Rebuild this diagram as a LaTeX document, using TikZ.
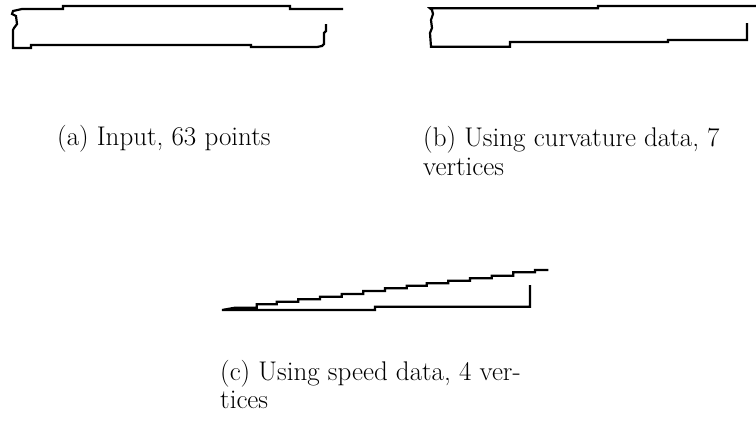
\documentclass[tikz,border=0pt]{standalone}
\begin{document}
\begin{tikzpicture}[x=1pt,y=-1pt,
  outline/.style={line width=2.2pt,line join=miter,line cap=butt},
  captext/.style={anchor=base west,inner sep=0pt,font=\fontsize{27}{28.5}\selectfont}]
\useasboundingbox (0,0) rectangle (756,442);
% (a) input
\draw[outline] (343,9) -- (290,9) -- (290,6) -- (63,6) -- (63,9) -- (22,9)
  -- (13,11) -- (12,14) -- (16,16) -- (17,24) -- (14,28) -- (13,30) -- (13,48)
  -- (31,48) -- (31,45) -- (251,45) -- (251,47) -- (317,47) -- (322,46)
  -- (324,44) -- (324,33) -- (326,31) -- (326,24);
% (b) curvature
\draw[outline] (756,6) -- (598,6) -- (598,8.3) -- (430,8.3) -- (432,10) -- (433,14)
  -- (431,20) -- (432,28) -- (430,33) -- (431,46.7) -- (510,46.7) -- (510,42)
  -- (668,42) -- (668,40) -- (747,40) -- (747,23);
% (c) speed
\draw[outline] (548.3,270) -- (535,270) -- (535,272.3) -- (513.3,272.3) -- (513.3,275.7)
  -- (491.7,275.7) -- (491.7,278.3) -- (470,278.3) -- (470,280.7) -- (448.3,280.7)
  -- (448.3,283.3) -- (426.7,283.3) -- (426.7,285.7) -- (406.7,285.7) -- (406.7,288.3)
  -- (385,288.3) -- (385,291) -- (363.3,291) -- (363.3,294) -- (341.7,294)
  -- (341.7,296.7) -- (320,296.7) -- (320,299.3) -- (298.3,299.3) -- (298.3,301.7)
  -- (276.7,301.7) -- (276.7,304.3) -- (256.7,304.3) -- (256.7,307.7) -- (235,307.7)
  -- (222,310) -- (375,310) -- (375,306.7) -- (530,306.7) -- (530,285);
% captions
\node[captext] (capa) at (57,145) {(a) Input, 63 points};
\node[captext] (capb1) at (423,146) {(b) Using curvature data, 7};
\node[captext] (capb2) at (423,175) {vertices};
\node[captext] (capc1) at (220,380) {(c) Using speed data, 4 ver-};
\node[captext] (capc2) at (220,408.5) {tices};
\end{tikzpicture}
\end{document}
